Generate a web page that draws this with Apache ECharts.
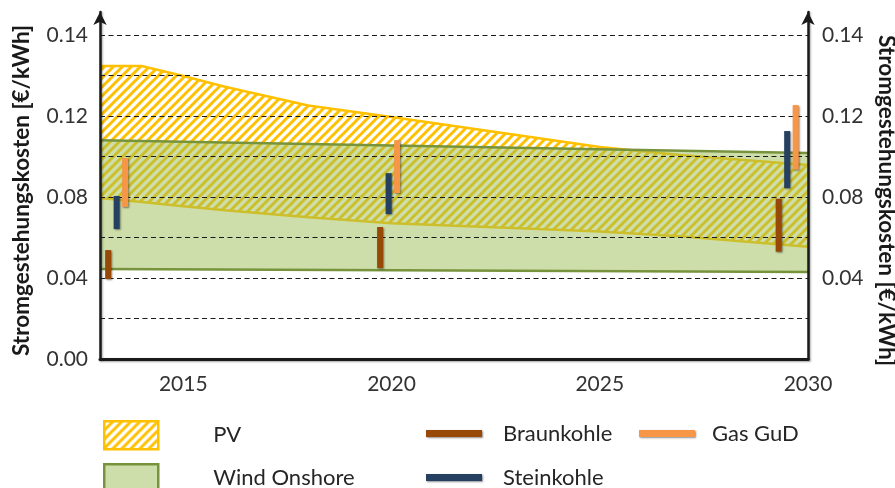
<!DOCTYPE html>
<html><head><meta charset="utf-8">
<script src="https://cdn.jsdelivr.net/npm/echarts@6/dist/echarts.min.js"></script>
<style>html,body{margin:0;padding:0;background:#fff}#c{width:895px;height:488px}</style>
</head><body><div id="c"></div>
<script>
// ---- data ----
const pvYears = [2013, 2014, 2015, 2016, 2018, 2020, 2022, 2025, 2027, 2030];
const pvUpper = [0.1447, 0.1447, 0.1398, 0.1345, 0.1252, 0.1195, 0.1136, 0.1047, 0.1007, 0.0958];
const pvLower = [0.0795, 0.0775, 0.0755, 0.0735, 0.0700, 0.0670, 0.0655, 0.0630, 0.0605, 0.0555];
const windYears = [2013, 2030];
const windUpper = [0.1081, 0.1017];
const windLower = [0.0444, 0.0430];
const coalYears = [2013.4, 2019.93, 2029.5];
const braunLow = [0.0395, 0.0449, 0.0530];
const braunHigh = [0.0538, 0.0652, 0.0792];
const steinLow = [0.0642, 0.0716, 0.0844];
const steinHigh = [0.0805, 0.0918, 0.1126];
const gasLow = [0.0751, 0.0820, 0.0935];
const gasHigh = [0.0993, 0.1081, 0.1254];
const yTickValues = [0, 0.04, 0.08, 0.12, 0.16];
const yTickLabelsLeft = ['0.00', '0.04', '0.08', '0.12', '0.14'];
const yTickLabelsRight = ['', '0.04', '0.08', '0.12', '0.14'];
const xTickLabels = [2015, 2020, 2025, 2030];
const yName = 'Stromgestehungskosten [€/kWh]';

// ---- styles ----
const FONT = 'Lato';
const PV_COLOR = '#FFC000';
const WIND_LINE = '#77933C';
const WIND_FILL = 'rgba(155,189,85,0.5)';
const BRAUN = '#984807';
const STEIN = '#254061';
const GAS = '#F79646';

function hatch(color) {
  const s = 9;
  const c = document.createElement('canvas');
  c.width = s; c.height = s;
  const g = c.getContext('2d');
  g.strokeStyle = color; g.lineWidth = 3;
  g.beginPath();
  g.moveTo(0, s); g.lineTo(s, 0);
  g.moveTo(-s / 2, s / 2); g.lineTo(s / 2, -s / 2);
  g.moveTo(s / 2, s * 1.5); g.lineTo(s * 1.5, s / 2);
  g.stroke();
  return c;
}
const pvPattern = { image: hatch(PV_COLOR), repeat: 'repeat' };

function yLabel(arr) {
  return function (v) {
    const i = yTickValues.findIndex(t => Math.abs(t - v) < 1e-9);
    return i >= 0 ? arr[i] : '';
  };
}

const axisLineStyle = { color: '#1a1a1a', width: 2.5, shadowColor: 'rgba(0,0,0,0.35)', shadowBlur: 2, shadowOffsetX: 1, shadowOffsetY: 1 };
const shadow = { shadowColor: 'rgba(0,0,0,0.45)', shadowBlur: 2, shadowOffsetX: 1, shadowOffsetY: 1 };

// value column first so that stacking happens on the y dimension
function band(nameLower, name, stack, xs, lo, hi, lineColor, areaColor, z) {
  return [
    { type: 'line', name: nameLower, stack: stack, z: z, silent: true, symbol: 'none',
      encode: { x: 1, y: 0 },
      data: xs.map((x, i) => [lo[i], x]),
      lineStyle: { color: lineColor, width: 2.5 }, itemStyle: { color: lineColor } },
    { type: 'line', name: name, stack: stack, z: z, silent: true, symbol: 'none',
      encode: { x: 1, y: 0 },
      data: xs.map((x, i) => [hi[i] - lo[i], x]),
      lineStyle: { color: lineColor, width: 2.5 }, itemStyle: { color: lineColor },
      areaStyle: { color: areaColor, opacity: 1 } }
  ];
}

function bars(name, color, lo, hi, offset) {
  return {
    type: 'custom', name: name, z: 5, silent: true,
    itemStyle: { color: color },
    encode: { x: 0, y: [1, 2] },
    data: coalYears.map((x, i) => [x, lo[i], hi[i]]),
    renderItem: function (params, api) {
      const top = api.coord([api.value(0), api.value(2)]);
      const bot = api.coord([api.value(0), api.value(1)]);
      return {
        type: 'rect',
        shape: { x: top[0] + offset - 3, y: top[1], width: 6, height: bot[1] - top[1] },
        style: Object.assign({ fill: color }, shadow)
      };
    }
  };
}

function legendAt(name, left, top, w, h, gap, itemStyle) {
  return {
    left: left, top: top, padding: 0, itemWidth: w, itemHeight: h, selectedMode: false,
    data: [{ name: name, icon: 'rect', itemStyle: itemStyle }],
    textStyle: { fontFamily: FONT, fontSize: 22, color: '#262626', padding: [0, 0, 0, gap] }
  };
}

const chart = echarts.init(document.getElementById('c'), null, { renderer: 'canvas' });
chart.setOption({
  animation: false,
  backgroundColor: '#fff',
  grid: { left: 100, right: 87, top: 12, bottom: 129, containLabel: false, outerBoundsMode: 'none' },
  xAxis: {
    type: 'value', min: 2013, max: 2030, interval: 1, z: 3,
    axisLine: { show: true, lineStyle: Object.assign({}, axisLineStyle, { width: 3 }) },
    axisTick: { show: false },
    splitLine: { show: false },
    axisLabel: {
      margin: 15, fontFamily: FONT, fontSize: 21, color: '#333',
      formatter: v => (xTickLabels.indexOf(v) >= 0 ? String(v) : '')
    }
  },
  yAxis: [
    {
      type: 'value', min: 0, max: 0.1714, interval: 0.02, position: 'left', z: 3,
      name: yName, nameLocation: 'middle', nameRotate: 90, nameGap: 67, nameMoveOverlap: false,
      nameTextStyle: { fontFamily: FONT, fontSize: 22.5, fontWeight: 'bold', color: '#1a1a1a', padding: [0, 10, 0, 0] },
      axisLine: { show: true, symbol: ['none', 'arrow'], symbolSize: [10, 13], lineStyle: axisLineStyle },
      axisTick: { show: false },
      axisLabel: { margin: 12, fontFamily: FONT, fontSize: 21, color: '#333', formatter: yLabel(yTickLabelsLeft), showMaxLabel: false },
      splitLine: { show: true, showMaxLine: false, lineStyle: { color: '#1a1a1a', width: 1, type: [5, 3.5] } }
    },
    {
      type: 'value', min: 0, max: 0.1714, interval: 0.02, position: 'right', z: 3,
      name: yName, nameLocation: 'middle', nameRotate: -90, nameGap: 67, nameMoveOverlap: false,
      nameTextStyle: { fontFamily: FONT, fontSize: 22.5, fontWeight: 'bold', color: '#1a1a1a', padding: [0, 0, 0, 30] },
      axisLine: { show: true, symbol: ['none', 'arrow'], symbolSize: [10, 13], lineStyle: axisLineStyle },
      axisTick: { show: false },
      axisLabel: { margin: 14, fontFamily: FONT, fontSize: 21, color: '#333', formatter: yLabel(yTickLabelsRight), showMaxLabel: false },
      splitLine: { show: false }
    }
  ],
  legend: [
    legendAt('PV', 103, 420, 54, 28, 50, { color: pvPattern, borderColor: PV_COLOR, borderWidth: 2.5 }),
    legendAt('Wind Onshore', 103, 463, 54, 28, 50, { color: '#CDDEAA', borderColor: WIND_LINE, borderWidth: 2.5 }),
    legendAt('Braunkohle', 426, 422.5, 56, 7, 16, Object.assign({ color: BRAUN }, shadow)),
    legendAt('Gas GuD', 639, 422.5, 56, 7, 12, Object.assign({ color: GAS }, shadow)),
    legendAt('Steinkohle', 426, 466.5, 56, 7, 16, Object.assign({ color: STEIN }, shadow))
  ],
  series: [].concat(
    band('PV lower', 'PV', 'pv', pvYears, pvLower, pvUpper, PV_COLOR, pvPattern, 1),
    band('Wind lower', 'Wind Onshore', 'wind', windYears, windLower, windUpper, WIND_LINE, WIND_FILL, 2),
    [
      bars('Braunkohle', BRAUN, braunLow, braunHigh, -8.5),
      bars('Steinkohle', STEIN, steinLow, steinHigh, 0),
      bars('Gas GuD', GAS, gasLow, gasHigh, 8.5)
    ]
  )
});
</script>
</body></html>
